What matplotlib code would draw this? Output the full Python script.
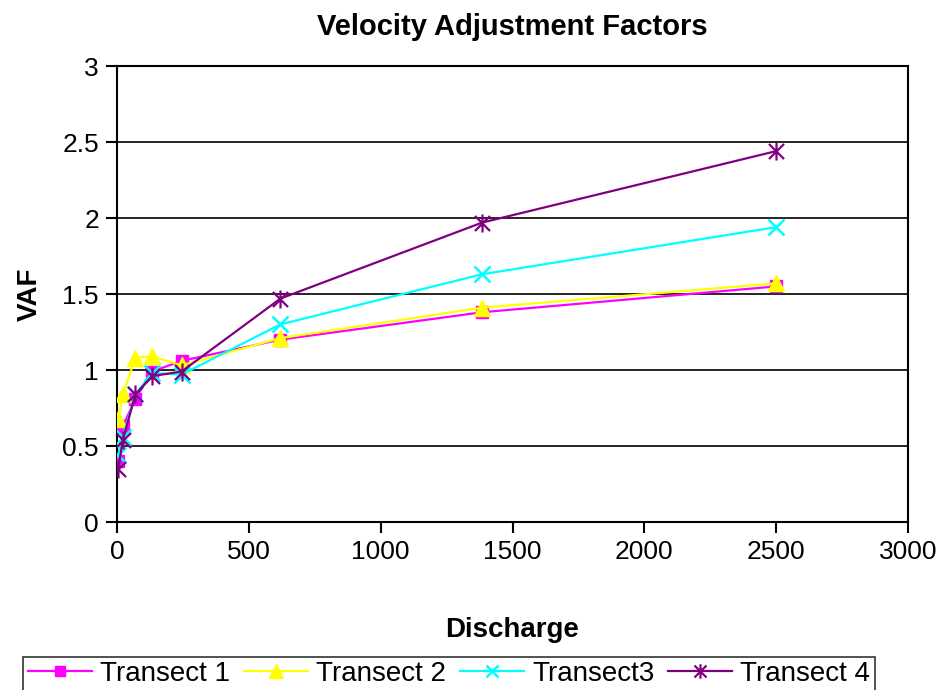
import matplotlib
matplotlib.use("Agg")
import matplotlib.pyplot as plt
from matplotlib.path import Path

plt.rcParams['font.family'] = ['Liberation Sans', 'DejaVu Sans']

discharge = [5, 22, 70, 133, 245, 620, 1385, 2500]
transect1 = [0.40, 0.63, 0.81, 0.99, 1.06, 1.20, 1.38, 1.55]
transect2 = [0.68, 0.84, 1.08, 1.09, 1.03, 1.21, 1.41, 1.57]
transect3 = [0.44, 0.56, 0.84, 0.98, 0.97, 1.30, 1.63, 1.94]
transect4 = [0.35, 0.54, 0.84, 0.96, 0.99, 1.47, 1.97, 2.44]
labels = ["Transect 1", "Transect 2", "Transect3", "Transect 4"]

# excel style asterisk: x plus a vertical bar
star = Path([(-1, -1), (1, 1), (-1, 1), (1, -1), (0, -1.2), (0, 1.2)],
            [Path.MOVETO, Path.LINETO, Path.MOVETO, Path.LINETO, Path.MOVETO, Path.LINETO])

fig = plt.figure(figsize=(9.44, 6.9), dpi=100)
ax = fig.add_axes([117/944, 1 - 522/690, (908 - 117)/944, (522 - 66)/690])

ax.plot(discharge, transect1, color='#FF00FF', lw=1.6, marker='s', ms=9,
        mfc='#FF00FF', mec='#FF00FF', label=labels[0], zorder=3)
ax.plot(discharge, transect2, color='#FFFF00', lw=1.6, marker='^', ms=12,
        mfc='#FFFF00', mec='#FFFF00', label=labels[1], zorder=4)
ax.plot(discharge, transect3, color='#00FFFF', lw=1.6, marker='x', ms=11,
        mew=1.8, label=labels[2], zorder=5)
ax.plot(discharge, transect4, color='#800080', lw=1.6, marker=star, ms=13,
        mew=1.6, label=labels[3], zorder=6)

ax.set_xlim(0, 3000)
ax.set_ylim(0, 3)
ax.set_xticks(range(0, 3001, 500))
ax.set_yticks([0, 0.5, 1, 1.5, 2, 2.5, 3])
ax.set_yticklabels(['0', '0.5', '1', '1.5', '2', '2.5', '3'])
ax.yaxis.grid(True, color='black', lw=1.2)
ax.set_axisbelow(True)
for s in ax.spines.values():
    s.set_linewidth(1.5)
ax.tick_params(direction='out', length=8, width=1.5, labelsize=19, pad=5)

ax.set_title("Velocity Adjustment Factors", fontsize=21, fontweight='bold', pad=22)
ax.set_xlabel("Discharge", fontsize=20, fontweight='bold', labelpad=38)
ax.set_ylabel("VAF", fontsize=20, fontweight='bold', labelpad=14)

leg = fig.legend(loc='upper center', bbox_to_anchor=(449/944, 1 - 643/690), ncol=4,
                 fontsize=20, frameon=True, fancybox=False, edgecolor='black',
                 handlelength=2.3, handletextpad=0.3, columnspacing=0.5,
                 borderpad=0.15, markerscale=0.8)
leg.get_frame().set_linewidth(1.2)

fig.savefig("out.png", dpi=100)
